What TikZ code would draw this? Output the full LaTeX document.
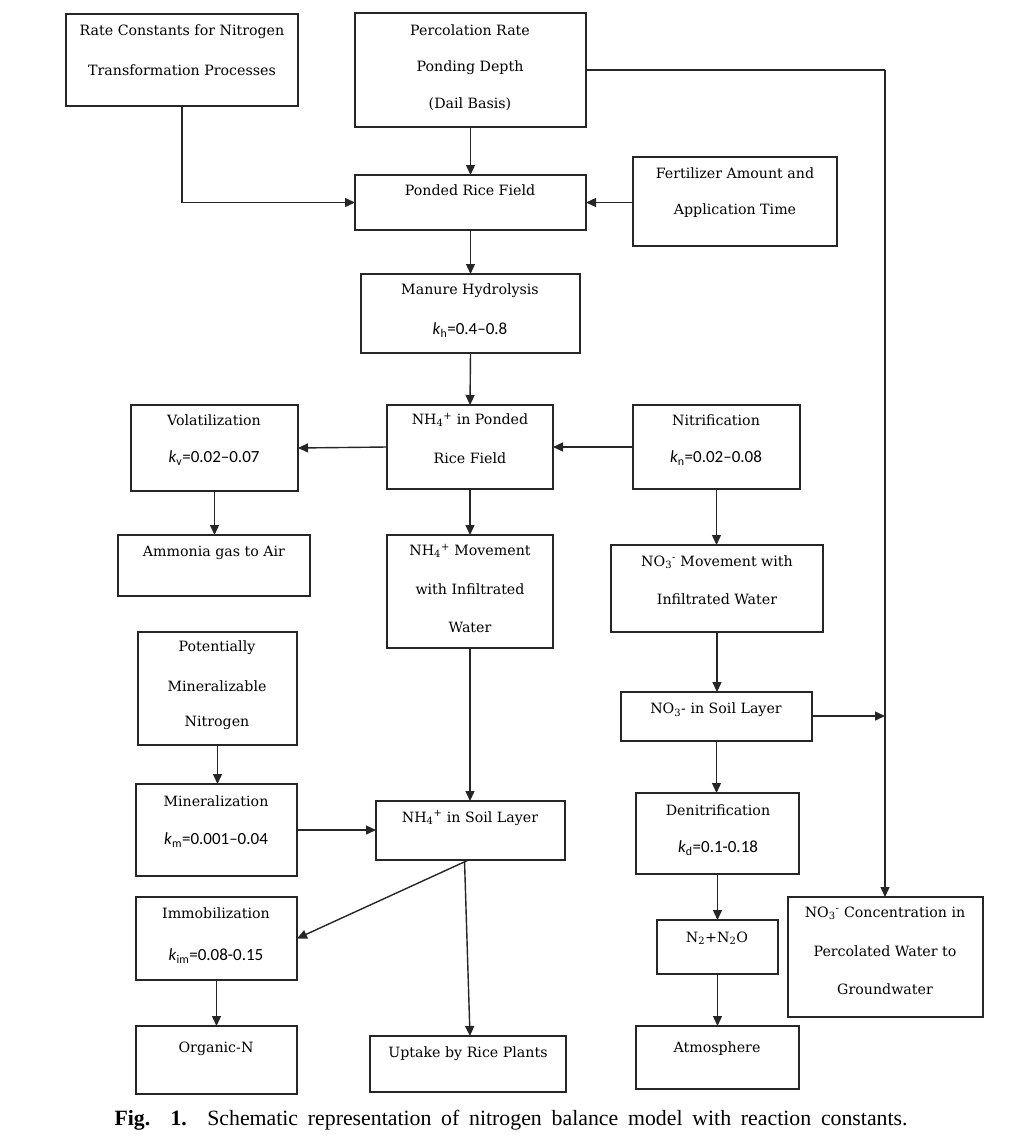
\documentclass[tikz,border=0pt]{standalone}
\usepackage{fontspec}
\setmainfont{Liberation Serif}
\newfontfamily\boxfont{DejaVu Serif}
\newfontfamily\kfont{Carlito}
\usetikzlibrary{arrows.meta}
\newcommand{\ionx}[2]{\textsubscript{#1}\textsuperscript{#2}}
\newcommand{\kk}[2]{{\kfont\fontsize{17}{19}\selectfont\textit{k}\textsubscript{#1}=#2}}
\tikzset{
  box/.style={draw=black!85, line width=1.4pt, inner sep=0pt, outer sep=0pt, anchor=north west},
  txt/.style={inner sep=0pt, font=\boxfont\fontsize{14.2}{16}\selectfont, text=black},
  arr/.style={draw=black!85, line width=1.4pt, -{Triangle[length=10pt,width=9pt]}},
}
\newcommand{\bx}[5]{\node[box, minimum width=\the\numexpr#4-#2\relax pt, minimum height=\the\numexpr#5-#3\relax pt] (#1) at (#2,#3) {};}
\begin{document}
\begin{tikzpicture}[x=1pt,y=-1pt]
\useasboundingbox (0,0) rectangle (1017,1141);
% boxes
\bx{rate}{66}{14}{298}{106}
\bx{perc}{355}{13}{586}{127}
\bx{pond}{355}{175}{586}{230}
\bx{fert}{633}{157}{837}{246}
\bx{manu}{361}{274}{580}{353}
\bx{vola}{131}{405}{298}{491}
\bx{nhp}{387}{405}{553}{489}
\bx{nitr}{633}{405}{800}{489}
\bx{ammo}{118}{535}{310}{596}
\bx{nhm}{387}{535}{553}{648}
\bx{nom}{611}{545}{823}{632}
\bx{pmn}{138}{632}{297}{745}
\bx{nos}{621}{692}{812}{741}
\bx{mine}{136}{784}{297}{876}
\bx{nhs}{376}{801}{565}{860}
\bx{deni}{636}{793}{799}{874}
\bx{immo}{136}{897}{297}{980}
\bx{ntwo}{657}{920}{778}{974}
\bx{conc}{788}{897}{983}{1017}
\bx{orgn}{136}{1026}{297}{1094}
\bx{upta}{370}{1036}{566}{1092}
\bx{atmo}{636}{1026}{799}{1089}
% texts
\node[txt] (t1a) at (182,32) {Rate Constants for Nitrogen};
\node[txt] (t1b) at (182,70) {Transformation Processes};
\node[txt] (t2a) at (470,30) {Percolation Rate};
\node[txt] (t2b) at (470,68) {Ponding Depth};
\node[txt] (t2c) at (470,104) {(Dail Basis)};
\node[txt] (t3a) at (470,190) {Ponded Rice Field};
\node[txt] (t4a) at (735,173) {Fertilizer Amount and};
\node[txt] (t4b) at (735,211) {Application Time};
\node[txt] (t5a) at (470,291) {Manure Hydrolysis};
\node[txt] (t5b) at (470,330) {\kk{h}{0.4–0.8}};
\node[txt] (t6a) at (214,420) {Volatilization};
\node[txt] (t6b) at (214,458) {\kk{v}{0.02–0.07}};
\node[txt] (t7a) at (470,420) {NH\ionx{4}{+} in Ponded};
\node[txt] (t7b) at (470,458) {Rice Field};
\node[txt] (t8a) at (716,420) {Nitrification};
\node[txt] (t8b) at (716,458) {\kk{n}{0.02–0.08}};
\node[txt] (t9a) at (214,553) {Ammonia gas to Air};
\node[txt] (t10a) at (470,551) {NH\ionx{4}{+} Movement};
\node[txt] (t10b) at (470,589) {with Infiltrated};
\node[txt] (t10c) at (470,627) {Water};
\node[txt] (t11a) at (717,562) {NO\ionx{3}{-} Movement with};
\node[txt] (t11b) at (717,599) {Infiltrated Water};
\node[txt] (t12a) at (217,648) {Potentially};
\node[txt] (t12b) at (217,686) {Mineralizable};
\node[txt] (t12c) at (217,723) {Nitrogen};
\node[txt] (t13a) at (716,710) {NO\textsubscript{3}- in Soil Layer};
\node[txt] (t14a) at (216,801) {Mineralization};
\node[txt] (t14b) at (216,840) {\kk{m}{0.001–0.04}};
\node[txt] (t15a) at (470,818) {NH\ionx{4}{+} in Soil Layer};
\node[txt] (t16a) at (718,810) {Denitrification};
\node[txt] (t16b) at (718,848) {\kk{d}{0.1-0.18}};
\node[txt] (t17a) at (216,913) {Immobilization};
\node[txt] (t17b) at (216,956) {\kk{im}{0.08-0.15}};
\node[txt] (t18a) at (717,938) {N\textsubscript{2}+N\textsubscript{2}O};
\node[txt] (t19a) at (885,913) {NO\ionx{3}{-} Concentration in};
\node[txt] (t19b) at (885,951) {Percolated Water to};
\node[txt] (t19c) at (885,989) {Groundwater};
\node[txt] (t20a) at (216,1049) {Organic-N};
\node[txt] (t21a) at (468,1054) {Uptake by Rice Plants};
\node[txt] (t22a) at (717,1049) {Atmosphere};
\node[inner sep=0pt, font=\fontsize{21.8}{24}\selectfont] (cap) at (511,1120)
  {\makebox[793pt][s]{\textbf{Fig. 1.} Schematic representation of nitrogen balance model with reaction constants.}};
% connectors
\coordinate (j1) at (885,70);
\coordinate (j2) at (885,716);
\draw[arr] (rate.south) |- (pond.west);
\draw[arr] (perc.south) -- (pond.north);
\draw[line width=1.4pt, draw=black!85] (perc.east |- j1) -- (j1);
\draw[arr] (j1) -- (conc.north -| j1);
\draw[arr] (fert.west |- pond.west) -- (pond.east);
\draw[arr] (pond.south) -- (manu.north);
\draw[arr] (manu.south) -- (nhp.north);
\draw[arr] (nhp.west) -- (vola.east);
\draw[arr] (nitr.west) -- (nhp.east);
\draw[arr] (vola.south) -- (ammo.north -| vola.south);
\draw[arr] (nhp.south) -- (nhm.north);
\draw[arr] (nitr.south) -- (nom.north -| nitr.south);
\draw[arr] (nhm.south) -- (nhs.north -| nhm.south);
\draw[arr] (nom.south) -- (nos.north -| nom.south);
\draw[arr] (nos.east |- j2) -- (j2);
\draw[arr] (pmn.south) -- (mine.north -| pmn.south);
\draw[arr] (mine.east) -- (nhs.west |- mine.east);
\draw[arr] ([xshift=-2pt]nhs.south) -- (immo.east);
\draw[arr] ([xshift=-6pt]nhs.south) -- ([xshift=2pt]upta.north);
\draw[arr] (immo.south) -- (orgn.north -| immo.south);
\draw[arr] (nos.south) -- (deni.north -| nos.south);
\draw[arr] (deni.south) -- (ntwo.north -| deni.south);
\draw[arr] (ntwo.south) -- (atmo.north -| ntwo.south);
\end{tikzpicture}
\end{document}
